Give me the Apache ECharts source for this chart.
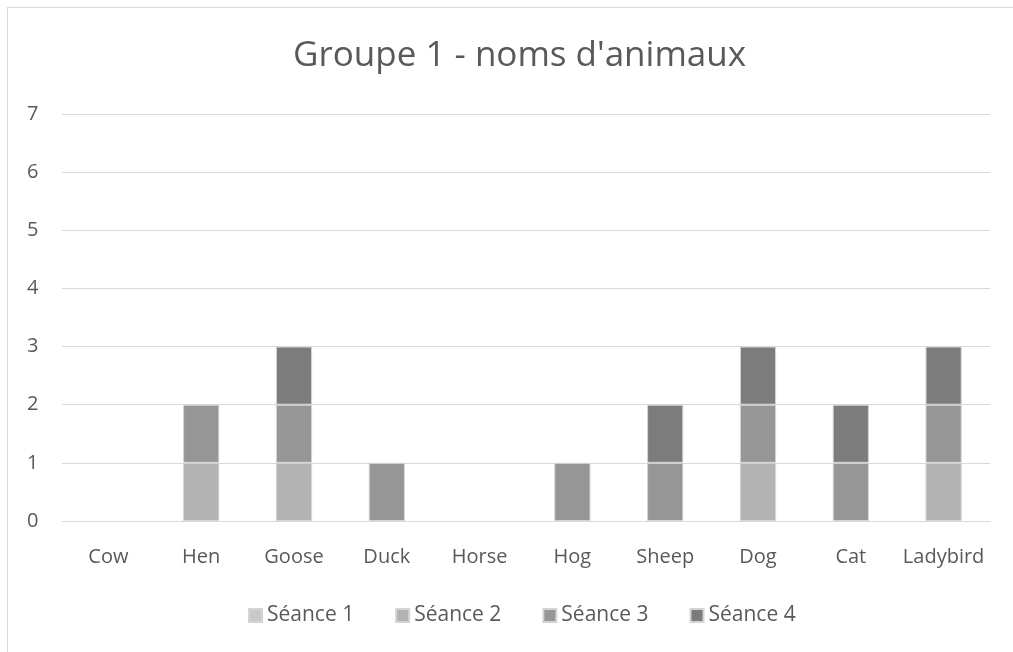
<!DOCTYPE html>
<html lang="fr">
<head>
<meta charset="UTF-8">
<title>Groupe 1 - noms d'animaux</title>
<script src="https://cdn.jsdelivr.net/npm/echarts@6/dist/echarts.min.js"></script>
<style>
  html, body { margin: 0; padding: 0; background: #fff; }
  #frame { position: absolute; left: 7px; top: 7px; width: 1010px; height: 650px;
           border-left: 1px solid #d9d9d9; border-top: 1px solid #d9d9d9; }
  #main { position: absolute; left: 0; top: 0; width: 1013px; height: 652px; }
</style>
</head>
<body>
<div id="frame"></div>
<div id="main"></div>
<script type="text/javascript">
// données
var categories = ['Cow', 'Hen', 'Goose', 'Duck', 'Horse', 'Hog', 'Sheep', 'Dog', 'Cat', 'Ladybird'];
var seance1 = [0, 0, 0, 0, 0, 0, 0, 0, 0, 0];
var seance2 = [0, 1, 1, 0, 0, 0, 0, 1, 0, 1];
var seance3 = [0, 1, 1, 1, 0, 1, 1, 1, 1, 1];
var seance4 = [0, 0, 1, 0, 0, 0, 1, 1, 1, 1];
var yTicks = [0, 1, 2, 3, 4, 5, 6, 7];

var names = ['Séance 1', 'Séance 2', 'Séance 3', 'Séance 4'];
var colors = ['#c9c9c9', '#b3b3b3', '#969696', '#7c7c7c'];
var values = [seance1, seance2, seance3, seance4];
var font = '"Open Sans", sans-serif';

var myChart = echarts.init(document.getElementById('main'));
myChart.setOption({
    animation: false,
    color: colors,
    title: {
        text: "Groupe 1 - noms d'animaux",
        left: 288,
        top: 34,
        textStyle: { fontFamily: font, fontSize: 35, fontWeight: 'normal', color: '#595959' }
    },
    legend: {
        data: names,
        top: 600,
        left: 243,
        itemWidth: 13,
        itemHeight: 13,
        itemGap: 41,
        icon: 'rect',
        textStyle: { fontFamily: font, fontSize: 21, color: '#595959' }
    },
    grid: { left: 62, right: 23, top: 114, bottom: 131 },
    xAxis: {
        type: 'category',
        data: categories,
        axisTick: { show: false },
        axisLine: { lineStyle: { color: '#d9d9d9' } },
        axisLabel: { fontFamily: font, fontSize: 20, color: '#595959', margin: 26, interval: 0 }
    },
    yAxis: {
        type: 'value',
        min: yTicks[0],
        max: yTicks[yTicks.length - 1],
        interval: 1,
        axisLabel: { fontFamily: font, fontSize: 20, color: '#595959', margin: 35, align: 'left' },
        splitLine: { lineStyle: { color: '#d9d9d9' } }
    },
    series: names.map(function (n, i) {
        return {
            name: n,
            type: 'bar',
            stack: 'total',
            barWidth: '39%',
            data: values[i].map(function (v) {
                return { value: v, itemStyle: { borderWidth: v === 0 ? 0 : 1 } };
            }),
            itemStyle: { color: colors[i], borderColor: '#d4d4d4', borderWidth: 1 }
        };
    })
});
</script>
</body>
</html>
